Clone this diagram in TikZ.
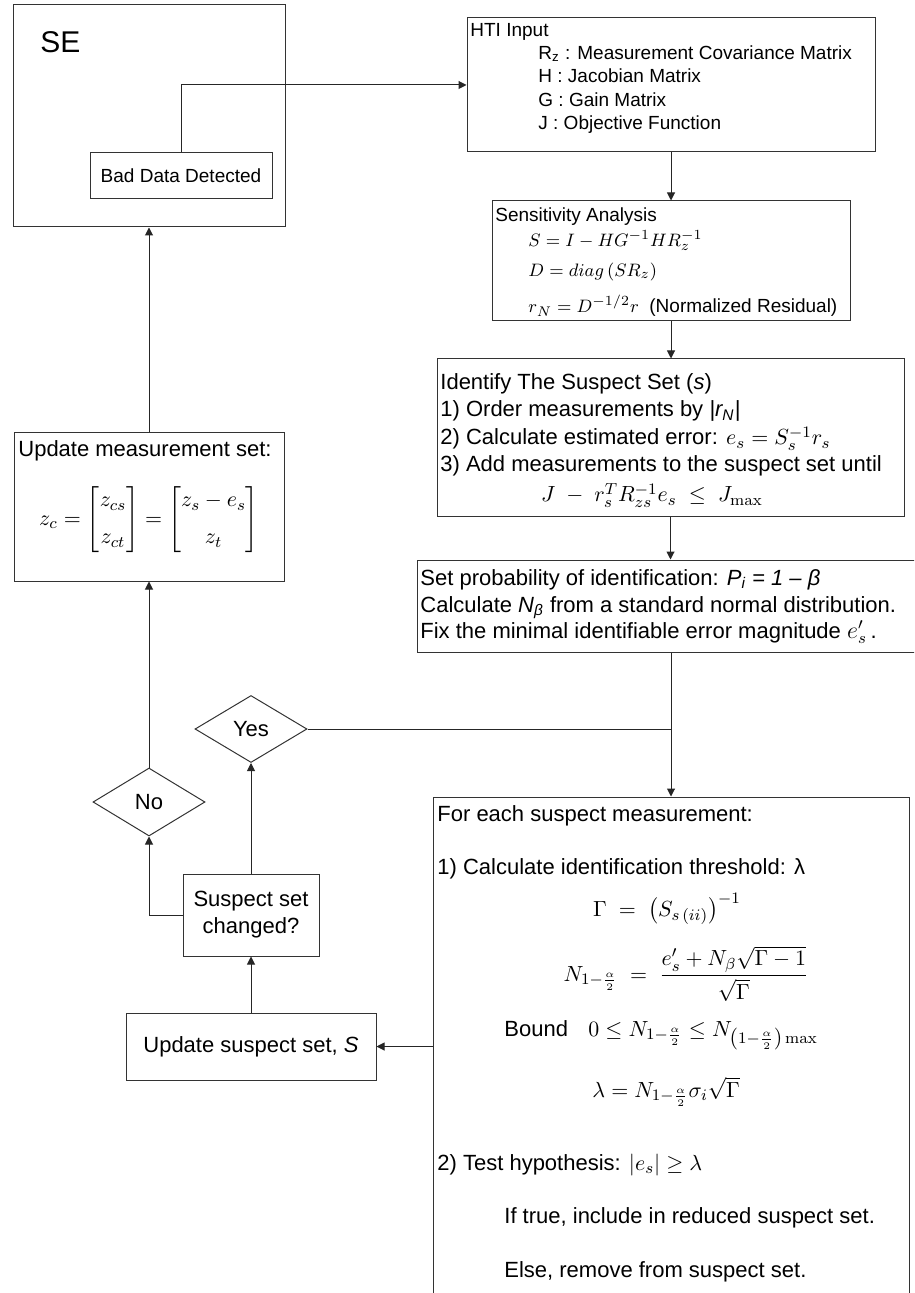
\documentclass[tikz,border=0pt]{standalone}
\usepackage{amsmath,amssymb}
\usepackage[no-math]{fontspec}
\setmainfont{Liberation Sans}
\usetikzlibrary{shapes.geometric,arrows.meta,positioning}

\begin{document}
\begin{tikzpicture}[x=0.5pt,y=-0.5pt,
    box/.style={rectangle,draw=black!80,line width=0.5pt,inner sep=0pt,
      font=\fontsize{11}{13.5}\selectfont},
    dec/.style={diamond,draw=black!80,line width=0.5pt,inner sep=0pt,
      minimum width=56pt,minimum height=33.5pt,font=\fontsize{11}{13.5}\selectfont},
    txt/.style={inner sep=0pt,anchor=base west,font=\fontsize{11}{13.5}\selectfont},
    sml/.style={inner sep=0pt,anchor=base west,font=\fontsize{9.5}{11}\selectfont},
    link/.style={black!85,line width=0.5pt},
    arr/.style={link,-{Triangle[length=4pt,width=4pt]}}]
  \useasboundingbox (0,0) rectangle (914,1293);
  \clip (0,0) rectangle (914,1293);

  % state estimator
  \node[box,minimum width=136pt,minimum height=111pt] (se) at (149,116) {};
  \node[txt,font=\fontsize{15}{18}\selectfont] (setitle) at (40,53) {SE};
  \node[box,minimum width=91pt,minimum height=23pt,font=\fontsize{9.5}{11}\selectfont]
    (bad) at (181,176) {Bad Data Detected};

  % right column
  \node[box,minimum width=204pt,minimum height=67pt] (hti) at (671,85) {};
  \node[sml] (htit) at (470,37) {HTI Input};
  \node[sml] (hti1) at (538,60) {R\textsubscript{z} : Measurement Covariance Matrix};
  \node[sml] (hti2) at (538,83) {H : Jacobian Matrix};
  \node[sml] (hti3) at (538,107) {G : Gain Matrix};
  \node[sml] (hti4) at (538,130) {J : Objective Function};

  \node[box,minimum width=179pt,minimum height=60pt] (sens) at (671,261) {};
  \node[sml] (senst) at (495,222) {Sensitivity Analysis};
  \node[sml] (sens1) at (528,247) {$S = I - HG^{-1}HR_z^{-1}$};
  \node[sml] (sens2) at (528,277) {$D = diag\left(SR_z\right)$};
  \node[sml] (sens3) at (528,313) {$r_N = D^{-1/2}r$\ \ (Normalized Residual)};

  \node[box,minimum width=233.5pt,minimum height=78.5pt] (ident) at (670.5,437.5) {};
  \node[txt] (identt) at (440,390) {Identify The Suspect Set (\textit{s})};
  \node[txt] (ident1) at (440,417) {1) Order measurements by \textit{|r\textsubscript{N}|}};
  \node[txt] (ident2) at (440,445) {2) Calculate estimated error: $e_s = S_s^{-1} r_s$};
  \node[txt] (ident3) at (440,472) {3) Add measurements to the suspect set until};
  \node[txt,anchor=base] (ident4) at (652,502) {$J \;-\; r_s^T R_{zs}^{-1} e_s \;\le\; J_{\max}$};

  \node[box,minimum width=254pt,minimum height=46pt] (prob) at (671,606) {};
  \node[txt] (prob1) at (420,585) {Set probability of identification: {\itshape P\textsubscript{i} = 1 – β}};
  \node[txt] (prob2) at (420,612) {Calculate {\itshape N\textsubscript{β}} from a standard normal distribution.};
  \node[txt] (prob3) at (420,638) {Fix the minimal identifiable error magnitude {\large$e'_s$}\,.};

  \node[box,minimum width=238pt,minimum height=261.5pt] (each) at (671,1058.5) {};
  \node[txt] (each0) at (437,821) {For each suspect measurement:};
  \node[txt] (each1) at (437,874) {1) Calculate identification threshold: λ};
  \node[txt,anchor=base] (gam) at (667,916) {$\Gamma \;=\; \left(S_{s\,(ii)}\right)^{-1}$};
  \node[txt,anchor=center] (nalp) at (686,974)
    {$N_{1-\frac{\alpha}{2}} \;=\; \dfrac{e'_s + N_\beta\sqrt{\Gamma-1}}{\sqrt{\Gamma}}$};
  \node[txt] (bnd) at (504,1036) {Bound};
  \node[txt] (bnd1) at (588,1036) {$0\le N_{1-\frac{\alpha}{2}}\le N_{\left(1-\frac{\alpha}{2}\right)\max}$};
  \node[txt] (lam) at (592,1097) {$\lambda = N_{1-\frac{\alpha}{2}}\sigma_i\sqrt{\Gamma}$};
  \node[txt] (each2) at (437,1170) {2) Test hypothesis: $\left|e_s\right|\ge\lambda$};
  \node[txt] (each3) at (504,1223) {If true, include in reduced suspect set.};
  \node[txt] (each4) at (504,1277) {Else, remove from suspect set.};

  % left column
  \node[box,minimum width=135pt,minimum height=74pt] (ymeas) at (149,507) {};
  \node[txt] (ymeast) at (18,457) {Update measurement set:};
  \node[txt,anchor=center] (ymeas1) at (149,520)
    {$z_c = \begin{bmatrix} z_{cs}\\[5pt] z_{ct}\end{bmatrix} = \begin{bmatrix} z_s - e_s\\[5pt] z_t\end{bmatrix}$};

  \node[dec] (yes) at (251,729) {Yes};
  \node[dec,minimum height=34pt] (no) at (149,802) {No};
  \node[box,minimum width=68pt,minimum height=41pt,align=center] (chg) at (251,915)
    {Suspect set\\changed?};
  \node[box,minimum width=125pt,minimum height=33.5pt] (upd) at (251,1046.5)
    {Update suspect set, \textit{S}};
  \coordinate (j) at (671,729);

  \draw[arr] (bad.north) |- (hti.west);
  \draw[arr] (hti) -- (sens);
  \draw[arr] (sens.south) -- (sens.south |- ident.north);
  \draw[arr] (ident.south) -- (ident.south |- prob.north);
  \draw[link] (yes.east) -- (j);
  \draw[arr] (prob.south) -- (each.north);
  \draw[arr] (upd.east -| each.west) -- (upd.east);
  \draw[arr] (upd) -- (chg);
  \draw[arr] (chg) -- (yes);
  \draw[arr] (chg.west) -| (no.south);
  \draw[arr] (no) -- (ymeas);
  \draw[arr] (ymeas) -- (se);
\end{tikzpicture}
\end{document}
